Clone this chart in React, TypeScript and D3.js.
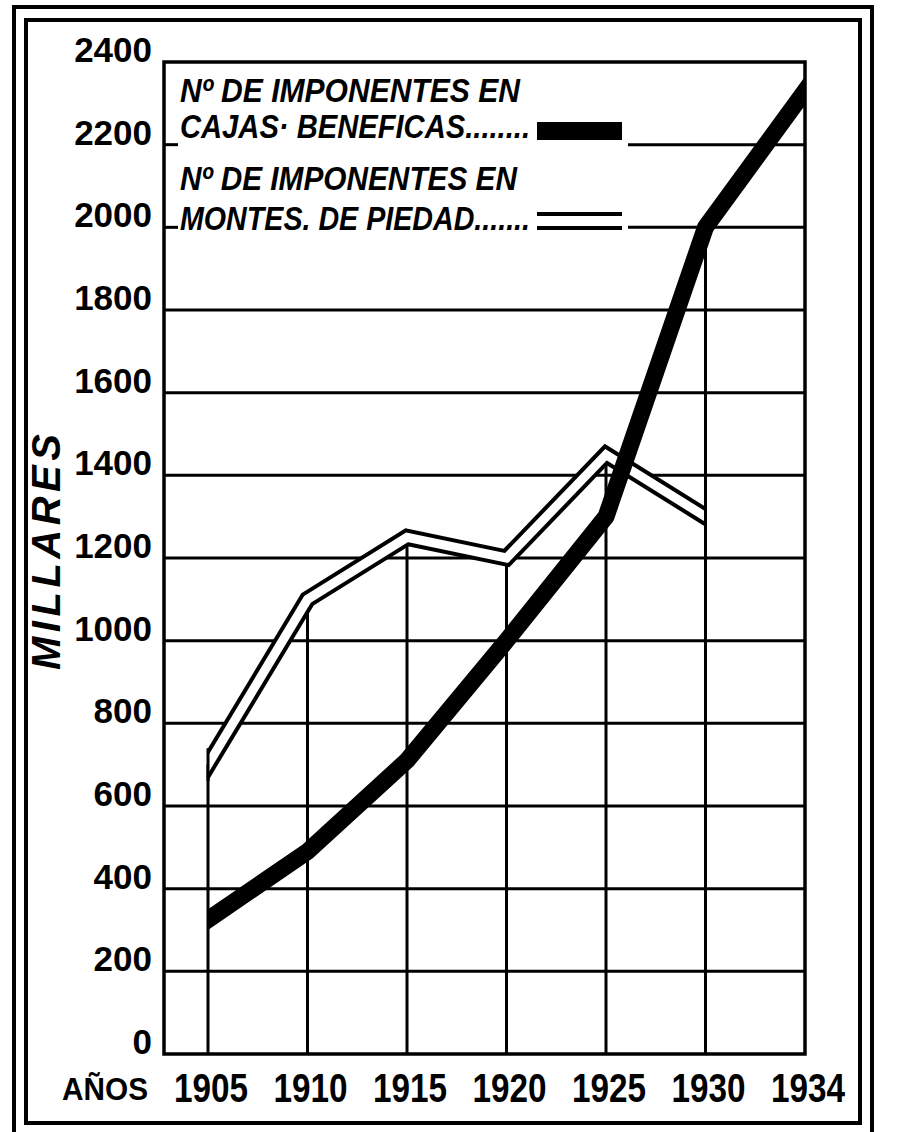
import React, { useEffect, useRef } from "react";
import * as d3 from "d3";

// años (categorías equiespaciadas, como en el original)
const years = ["1905", "1910", "1915", "1920", "1925", "1930", "1934"];
// miles de imponentes
const cajas = [325, 490, 710, 1000, 1300, 2000, 2330];
const montes = [700, 1100, 1250, 1200, 1450, 1300];
const yTicks = [0, 200, 400, 600, 800, 1000, 1200, 1400, 1600, 1800, 2000, 2200, 2400];
const legendLines = [
  "Nº DE IMPONENTES EN",
  "CAJAS· BENEFICAS........",
  "Nº DE IMPONENTES EN",
  "MONTES. DE PIEDAD.......",
];

const W = 902;
const H = 1132;
const plotLeft = 164;
const plotTop = 62;
const plotBottom = 1054;
const firstX = 208;
const lastX = 805;
const legendRight = 628;
const legendBottom = 250;

const font = "'Liberation Sans', Arial, sans-serif";

export default function App() {
  const svgRef = useRef<SVGSVGElement>(null);

  useEffect(() => {
    if (!svgRef.current) return;
    const svg = d3.select(svgRef.current);
    svg.selectAll("*").remove();

    const x = d3.scalePoint<string>().domain(years).range([firstX, lastX]);
    const y = d3.scaleLinear().domain([0, 2400]).range([plotBottom, plotTop]);

    svg.append("rect").attr("width", W).attr("height", H).attr("fill", "#fff");

    // marco doble
    svg.append("rect")
      .attr("x", 14).attr("y", 7).attr("width", 858).attr("height", 1132)
      .attr("fill", "none").attr("stroke", "#000").attr("stroke-width", 4);
    svg.append("rect")
      .attr("x", 26).attr("y", 20).attr("width", 834).attr("height", 1103)
      .attr("fill", "none").attr("stroke", "#000").attr("stroke-width", 4);

    const grid = svg.append("g").attr("stroke", "#000").attr("stroke-width", 3);

    // líneas horizontales
    yTicks.filter(t => t > 0 && t < 2400).forEach(t => {
      const yy = y(t);
      if (yy < legendBottom) {
        grid.append("line").attr("x1", plotLeft).attr("x2", plotLeft + 14).attr("y1", yy).attr("y2", yy);
        grid.append("line").attr("x1", legendRight).attr("x2", lastX).attr("y1", yy).attr("y2", yy);
      } else {
        grid.append("line").attr("x1", plotLeft).attr("x2", lastX).attr("y1", yy).attr("y2", yy);
      }
    });

    // líneas verticales hasta la curva más alta
    years.slice(0, -1).forEach((yr, i) => {
      const top = Math.max(cajas[i], montes[i] ?? 0);
      grid.append("line")
        .attr("x1", x(yr)!).attr("x2", x(yr)!)
        .attr("y1", plotBottom).attr("y2", y(top));
    });

    // marco del gráfico
    grid.append("path")
      .attr("fill", "none").attr("stroke-width", 3.5)
      .attr("d", `M${plotLeft},${plotBottom}V${plotTop}H${lastX}V${plotBottom}Z`);

    const defs = svg.append("defs");
    const clipFor = (id: string, x0: number, x1: number) => {
      defs.append("clipPath").attr("id", id)
        .append("rect").attr("x", x0).attr("y", 0).attr("width", x1 - x0).attr("height", H);
    };

    const extend = (pts: [number, number][]) => {
      const n = pts.length;
      const a = pts[0], b = pts[1], c = pts[n - 2], d = pts[n - 1];
      const k = 0.25;
      return [
        [a[0] - (b[0] - a[0]) * k, a[1] - (b[1] - a[1]) * k] as [number, number],
        ...pts,
        [d[0] + (d[0] - c[0]) * k, d[1] + (d[1] - c[1]) * k] as [number, number],
      ];
    };
    const line = d3.line<[number, number]>().curve(d3.curveLinear);

    // Montes de Piedad: línea doble
    const mPts = montes.map((v, i) => [x(years[i])!, y(v)] as [number, number]);
    clipFor("clipM", mPts[0][0], mPts[mPts.length - 1][0]);
    const gm = svg.append("g").attr("clip-path", "url(#clipM)");
    const mOuter = 17;
    gm.append("path").attr("d", line(extend(mPts))!)
      .attr("fill", "none").attr("stroke", "#000").attr("stroke-width", mOuter)
      .attr("stroke-linejoin", "miter");
    gm.append("path").attr("d", line(extend(mPts))!)
      .attr("fill", "none").attr("stroke", "#fff").attr("stroke-width", 9)
      .attr("stroke-linejoin", "miter");

    // cierre de los extremos
    [[0, 1], [mPts.length - 1, mPts.length - 2]].forEach(([i, j]) => {
      const s = (mPts[j][1] - mPts[i][1]) / (mPts[j][0] - mPts[i][0]);
      const h = (mOuter / 2) * Math.sqrt(1 + s * s);
      svg.append("line")
        .attr("x1", mPts[i][0]).attr("x2", mPts[i][0])
        .attr("y1", mPts[i][1] - h).attr("y2", mPts[i][1] + h)
        .attr("stroke", "#000").attr("stroke-width", 3);
    });

    // Cajas Benéficas: línea gruesa
    const cPts = cajas.map((v, i) => [x(years[i])!, y(v)] as [number, number]);
    clipFor("clipC", cPts[0][0], cPts[cPts.length - 1][0]);
    svg.append("path")
      .attr("clip-path", "url(#clipC)")
      .attr("d", line(extend(cPts))!)
      .attr("fill", "none").attr("stroke", "#000").attr("stroke-width", 17)
      .attr("stroke-linejoin", "round");

    // etiquetas eje Y
    svg.append("g").selectAll("text").data(yTicks).join("text")
      .attr("x", 152).attr("y", d => y(d))
      .attr("text-anchor", "end")
      .attr("font-family", font).attr("font-weight", "bold").attr("font-size", 35)
      .attr("fill", "#000")
      .text(d => String(d));

    // etiquetas eje X
    svg.append("g").selectAll("text").data(years).join("text")
      .attr("x", d => x(d)! + 3).attr("y", 1102)
      .attr("text-anchor", "middle")
      .attr("font-family", font).attr("font-weight", "bold").attr("font-size", 40)
      .attr("textLength", 74).attr("lengthAdjust", "spacingAndGlyphs")
      .attr("fill", "#000")
      .text(d => d);

    svg.append("text")
      .attr("x", 62).attr("y", 1100)
      .attr("font-family", font).attr("font-weight", "bold").attr("font-size", 31)
      .attr("textLength", 86).attr("lengthAdjust", "spacingAndGlyphs")
      .text("AÑOS");

    svg.append("text")
      .attr("transform", "translate(60,670) rotate(-90)")
      .attr("font-family", font).attr("font-weight", "bold").attr("font-style", "italic")
      .attr("font-size", 40)
      .attr("textLength", 236).attr("lengthAdjust", "spacing")
      .text("MILLARES");

    // leyenda
    const legendY = [102, 138, 190, 230];
    const legendW = [340, 350, 337, 350];
    legendLines.forEach((t, i) => {
      svg.append("text")
        .attr("x", 180).attr("y", legendY[i])
        .attr("font-family", font).attr("font-weight", "bold").attr("font-style", "italic")
        .attr("font-size", 34)
        .attr("textLength", legendW[i]).attr("lengthAdjust", "spacingAndGlyphs")
        .text(t);
    });
    svg.append("line")
      .attr("x1", 537).attr("x2", 622).attr("y1", 131).attr("y2", 131)
      .attr("stroke", "#000").attr("stroke-width", 18);
    svg.append("line")
      .attr("x1", 537).attr("x2", 622).attr("y1", 221).attr("y2", 221)
      .attr("stroke", "#000").attr("stroke-width", 18);
    svg.append("line")
      .attr("x1", 537).attr("x2", 622).attr("y1", 221).attr("y2", 221)
      .attr("stroke", "#fff").attr("stroke-width", 10);
  }, []);

  return (
    <svg
      ref={svgRef}
      width={W}
      height={H}
      style={{ position: "absolute", left: 0, top: 0 }}
    />
  );
}
